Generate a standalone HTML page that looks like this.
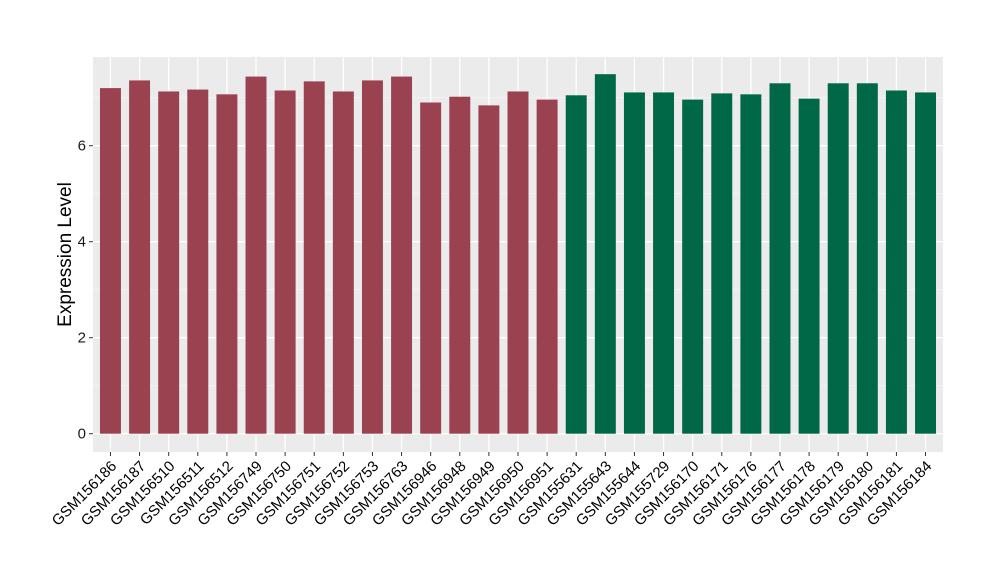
<!DOCTYPE html>
<html><head><meta charset="utf-8"><style>
body{margin:0;background:#fff;font-family:"Liberation Sans",Arial,sans-serif}
</style></head><body>
<svg id="chart" width="1000" height="580" xmlns="http://www.w3.org/2000/svg"></svg>
<script>
const categories=["GSM156186","GSM156187","GSM156510","GSM156511","GSM156512","GSM156749","GSM156750","GSM156751","GSM156752","GSM156753","GSM156763","GSM156946","GSM156948","GSM156949","GSM156950","GSM156951","GSM155631","GSM155643","GSM155644","GSM155729","GSM156170","GSM156171","GSM156176","GSM156177","GSM156178","GSM156179","GSM156180","GSM156181","GSM156184"];
const values=[7.20,7.36,7.13,7.17,7.07,7.44,7.15,7.34,7.13,7.36,7.44,6.90,7.02,6.84,7.13,6.96,7.05,7.49,7.11,7.11,6.96,7.09,7.07,7.30,6.98,7.30,7.30,7.15,7.11];
const groups=[0,0,0,0,0,0,0,0,0,0,0,0,0,0,0,0,1,1,1,1,1,1,1,1,1,1,1,1,1];
const yTicks=[0,2,4,6];
const colors=["#9a4250","#006846"];
const NS="http://www.w3.org/2000/svg";
const svg=document.getElementById('chart');
const L=93,R=943,T=57,B=452;
const step=(R-L)/(categories.length-1+1.2);
const x=i=>L+step*(0.6+i);
const y=v=>433.7-v*48;
function mk(t,a,p){const e=document.createElementNS(NS,t);for(const k in a)e.setAttribute(k,a[k]);(p||svg).appendChild(e);return e;}
const panel=mk('rect',{x:L,y:T,width:R-L,height:B-T,fill:'#ebebeb'});


for(let v=1;v<=7;v+=2){if(y(v)>T)mk('line',{x1:L,x2:R,y1:y(v),y2:y(v),stroke:'#f5f5f5','stroke-width':0.8});}
yTicks.forEach(v=>{
 const g=mk('line',{x1:L,x2:R,y1:y(v),y2:y(v),stroke:'#fff','stroke-width':1.3});
 
 
 mk('line',{x1:L-4,x2:L,y1:y(v),y2:y(v),stroke:'#333','stroke-width':1});
 const t=mk('text',{x:L-7,y:y(v)+5,'text-anchor':'end','font-size':15,fill:'#1a1a1a'});t.textContent=v;
 
 
});
categories.forEach((c,i)=>{
 mk('line',{x1:x(i),x2:x(i),y1:T,y2:B,stroke:'#fff','stroke-width':1.3});
});
categories.forEach((c,i)=>{
 const w=step*0.72;
 const b=mk('rect',{x:x(i)-w/2,y:y(values[i]),width:w,height:y(0)-y(values[i]),fill:colors[groups[i]]});
 
 
 mk('line',{x1:x(i),x2:x(i),y1:B,y2:B+4,stroke:'#333','stroke-width':1});
 const t=mk('text',{x:0,y:0,'text-anchor':'end','font-size':15,fill:'#000',transform:`translate(${x(i)+7},${B+15}) rotate(-45)`});
 t.textContent=c;
 
 
});
const yt=mk('text',{x:0,y:0,'text-anchor':'middle','font-size':19,fill:'#000',transform:`translate(71,${(T+B)/2}) rotate(-90)`});
yt.textContent='Expression Level';


</script>
</body></html>
